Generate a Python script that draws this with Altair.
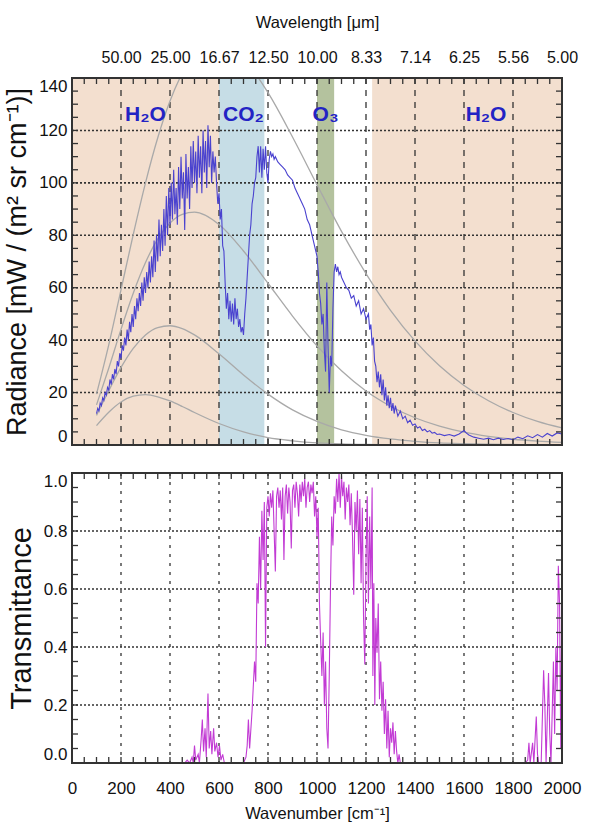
import altair as alt
import pandas as pd

# ---------------- data ----------------
band_id = ["H2O_far", "CO2", "O3", "H2O_mid"]
band_start = [0, 600, 1000, 1225]
band_end = [600, 785, 1070, 2000]
band_colors = ["#f3dfcf", "#c6dde6", "#b4c29e", "#f3dfcf"]

label_text = ["H\u2082O", "CO\u2082", "O\u2083", "H\u2082O"]
label_wn = [300, 700, 1035, 1690]
label_rad = [126, 126, 126, 126]

planck_wn = [100, 150, 200, 250, 300, 350, 400, 450, 500, 600, 700, 800, 900, 1000,
             1100, 1200, 1300, 1400, 1500, 1600, 1700, 1800, 1900, 2000]
planck_300 = [19.4, 38.2, 59.2, 80.3, 100.0, 117.2, 131.2, 141.8, 148.9, 153.4, 147.4, 134.4,
              117.5, 99.3, 81.5, 65.4, 51.4, 39.7, 30.2, 22.7, 16.9, 12.4, 9.0, 6.5]
planck_250 = [15.3, 29.3, 44.1, 57.9, 69.6, 78.6, 84.7, 88.0, 88.8, 84.1, 74.0, 61.7,
              49.2, 37.8, 28.3, 20.6, 14.8, 10.4, 7.2, 4.9, 3.3, 2.2, 1.5, 1.0]
planck_200 = [11.3, 20.7, 29.6, 36.9, 42.0, 44.8, 45.5, 44.4, 42.0, 34.8, 26.7, 19.4,
              13.4, 9.0, 5.8, 3.7, 2.3, 1.4, 0.8, 0.5, 0.3, 0.2, 0.1, 0.1]
planck_150 = [7.4, 12.5, 16.4, 18.6, 19.2, 18.4, 16.8, 14.7, 12.4, 8.2, 5.0, 2.8,
              1.6, 0.8, 0.4, 0.2, 0.1, 0.05, 0.02, 0.01, 0.0, 0.0, 0.0, 0.0]

rad_wn = [100, 105, 110, 115, 120, 125, 130, 135, 140, 145, 150, 155, 160, 165, 170, 175, 180, 185, 190, 195,
          200, 205, 210, 215, 220, 225, 230, 235, 240, 245, 250, 255, 260, 265, 270, 275, 280, 285, 290, 295,
          300, 305, 310, 315, 320, 325, 330, 335, 340, 345, 350, 355, 360, 365, 370, 375, 380, 385, 390, 395,
          400, 405, 410, 415, 420, 425, 430, 435, 440, 445, 450, 455, 460, 465, 470, 475, 480, 485, 490, 495,
          500, 505, 510, 515, 520, 525, 530, 535, 540, 545, 550, 555, 560, 565, 570, 575, 580, 585, 590, 595,
          600, 605, 610, 615, 620, 625, 630, 635, 640, 645, 650, 655, 660, 665, 670, 675, 680, 685, 690, 695,
          700, 705, 710, 715, 720, 725, 730, 735, 740, 745, 750, 755, 760, 765, 770, 775, 780, 785, 790, 795,
          800, 805, 810, 815, 820, 825, 830, 840, 850, 860, 870, 880, 890, 900, 910, 920, 930, 940, 950, 960,
          970, 980, 990, 1000, 1005, 1010, 1015, 1020, 1025, 1030, 1035, 1040, 1045, 1050, 1055, 1060, 1065, 1070,
          1075, 1080, 1085, 1090, 1095, 1100, 1110, 1120, 1130, 1140, 1150, 1160, 1170, 1180, 1190, 1200, 1210,
          1215, 1220, 1225, 1230, 1235, 1240, 1245, 1250, 1255, 1260, 1265, 1270, 1275, 1280, 1285, 1290, 1295,
          1300, 1305, 1310, 1315, 1320, 1330, 1340, 1350, 1360, 1370, 1380, 1390, 1400, 1410, 1420, 1430, 1440,
          1450, 1460, 1470, 1480, 1490, 1500, 1520, 1540, 1560, 1580, 1600, 1610, 1620, 1640, 1660, 1680, 1700,
          1720, 1740, 1760, 1780, 1800, 1820, 1840, 1860, 1880, 1900, 1920, 1940, 1960, 1980, 2000]
rad_val = [12, 14, 13, 16, 15, 18, 17, 20, 19, 22, 21, 25, 23, 27, 25, 29, 27, 32, 30, 35,
           33, 38, 36, 41, 38, 44, 40, 47, 43, 50, 45, 53, 48, 56, 51, 58, 53, 62, 55, 64,
           58, 66, 60, 70, 62, 72, 64, 78, 66, 80, 70, 86, 72, 84, 74, 90, 76, 95, 80, 98,
           84, 100, 86, 105, 88, 98, 84, 106, 90, 110, 94, 104, 82, 111, 94, 106, 90, 114, 98, 116,
           100, 112, 96, 118, 102, 114, 96, 120, 104, 116, 98, 122, 106, 118, 100, 112, 104, 110, 100, 92,
           96, 86, 90, 76, 74, 62, 52, 58, 48, 55, 47, 54, 46, 56, 48, 52, 45, 48, 43, 45,
           42, 50, 56, 64, 72, 80, 84, 92, 95, 100, 102, 110, 114, 104, 114, 102, 113, 105, 114, 104,
           100, 109, 112, 110, 111, 109, 110, 108, 107, 106, 105, 103, 102, 101, 98, 96, 94, 92, 90, 86,
           84, 80, 76, 72, 66, 58, 54, 46, 50, 36, 28, 62, 38, 20, 34, 30, 52, 66,
           69, 66, 68, 65, 66, 64, 62, 60, 59, 56, 57, 53, 55, 50, 52, 48, 50,
           44, 46, 38, 41, 32, 30, 24, 28, 22, 27, 19, 25, 17, 22, 15, 19, 14,
           18, 13, 16, 12, 15, 11, 13, 10, 11, 8.5, 9.5, 7.5, 8, 6.5, 7, 5.5, 6,
           5, 5.5, 4.5, 4.8, 4, 4.2, 3.6, 4, 3.4, 4.2, 5.5, 4.5, 3.8, 3, 2.6, 2.2, 2.6,
           2, 2.6, 2.1, 2.5, 2, 3, 2.4, 3.5, 2.8, 4, 3, 4.4, 3.4, 4.6, 4.2]

tr_wn = [100, 460, 470, 480, 490, 495, 500, 505, 515, 520, 527, 532, 537, 543, 548, 555, 560, 566, 571, 578,
         583, 590, 596, 602, 608, 615, 622, 700, 710, 715, 720, 725, 735, 745, 750, 755, 760, 765, 770, 775,
         780, 785, 790, 795, 800, 805, 810, 815, 820, 825, 830, 835, 840, 845, 850, 855, 860, 865, 870, 875,
         880, 885, 890, 895, 900, 905, 910, 915, 920, 925, 930, 935, 940, 945, 950, 955, 960, 965, 970, 975,
         980, 985, 990, 995, 1000, 1005, 1010, 1015, 1020, 1025, 1030, 1035, 1040, 1045, 1050, 1055, 1060, 1065,
         1070, 1075, 1080, 1085, 1090, 1095, 1100, 1105, 1110, 1115, 1120, 1125, 1130, 1135, 1140, 1145, 1150,
         1155, 1160, 1165, 1170, 1175, 1180, 1185, 1190, 1195, 1200, 1205, 1210, 1215, 1220, 1225, 1228, 1232,
         1236, 1240, 1245, 1250, 1255, 1260, 1265, 1270, 1275, 1280, 1285, 1290, 1295, 1300, 1305, 1310, 1315,
         1320, 1325, 1330, 1335, 1340, 1850, 1860, 1865, 1870, 1880, 1885, 1895, 1900, 1905, 1915, 1925, 1930,
         1935, 1945, 1950, 1955, 1965, 1970, 1975, 1980, 1985, 1990, 1995, 2000]
tr_val = [0, 0, 0.01, 0, 0.02, 0.0, 0.06, 0.01, 0.03, 0.0, 0.08, 0.15, 0.04, 0.12, 0.02, 0.24, 0.05, 0.11, 0.03, 0.12,
          0.04, 0.07, 0.02, 0.06, 0.01, 0.03, 0, 0, 0.02, 0.06, 0.15, 0.05, 0.18, 0.35, 0.28, 0.62, 0.55, 0.78, 0.6, 0.87,
          0.7, 0.9, 0.4, 0.88, 0.92, 0.85, 0.93, 0.88, 0.94, 0.8, 0.66, 0.92, 0.95, 0.88, 0.94, 0.84, 0.95, 0.7, 0.92, 0.96,
          0.86, 0.95, 0.9, 0.74, 0.94, 0.96, 0.88, 0.97, 0.93, 0.85, 0.96, 0.9, 0.97, 0.92, 0.98, 0.88, 0.95, 0.97, 0.9, 0.96,
          0.93, 0.97, 0.85, 0.92, 0.78, 0.88, 0.55, 0.42, 0.3, 0.45, 0.2, 0.35, 0.12, 0.05, 0.3, 0.6, 0.85, 0.75,
          0.92, 0.86, 0.98, 0.9, 1.0, 0.88, 0.99, 0.92, 0.97, 0.84, 0.95, 0.9, 0.96, 0.82, 0.93, 0.78, 0.58,
          0.9, 0.8, 0.94, 0.72, 0.91, 0.62, 0.88, 0.5, 0.34, 0.7, 0.92, 0.55, 0.85, 0.6, 0.95, 0.3, 0.62,
          0.2, 0.5, 0.38, 0.55, 0.22, 0.35, 0.18, 0.28, 0.1, 0.22, 0.05, 0.18, 0.02, 0.12, 0.07, 0.14, 0.03,
          0.11, 0.04, 0.0, 0.03, 0.0, 0, 0.01, 0.07, 0.0, 0.07, 0.0, 0.16, 0.03, 0.0, 0.0, 0.32, 0.2,
          0.0, 0.31, 0.1, 0.0, 0.35, 0.1, 0.4, 0.25, 0.68, 0.55, 0.05, 0.62]

# tick / grid values
x_major = [0, 200, 400, 600, 800, 1000, 1200, 1400, 1600, 1800, 2000]
x_top_major = [200, 400, 600, 800, 1000, 1200, 1400, 1600, 1800, 2000]
x_grid = [200, 400, 600, 800, 1000, 1200, 1400, 1600, 1800]
x_minor = list(range(0, 2001, 50))
y1_major = [0, 20, 40, 60, 80, 100, 120, 140]
y1_grid = [20, 40, 60, 80, 100, 120]
y1_minor = list(range(0, 141, 5))
y2_major = [0.0, 0.2, 0.4, 0.6, 0.8, 1.0]
y2_grid = [0.2, 0.4, 0.6, 0.8]
y2_minor = [i / 20 for i in range(0, 21)]

# ---------------- layout / style ----------------
W, H1, H2 = 490, 367, 290
FONT = "Liberation Sans, Arial, sans-serif"
INK = "#333333"
TXT = "#111111"
TICK = 6

band_df = pd.DataFrame({"id": band_id, "start": band_start, "end": band_end})
label_df = pd.DataFrame({"label": label_text, "wn": label_wn, "rad": label_rad})
planck_df = pd.concat([
    pd.DataFrame({"wn": planck_wn, "rad": vals, "T": name})
    for name, vals in [("150 K", planck_150), ("200 K", planck_200), ("250 K", planck_250), ("300 K", planck_300)]
])
rad_df = pd.DataFrame({"wn": rad_wn, "rad": rad_val})
tr_df = pd.DataFrame({"wn": tr_wn, "tr": tr_val})

x_scale = alt.Scale(domain=[0, 2000], nice=False, zero=False)
y1_scale = alt.Scale(domain=[0, 140], nice=False)
y2_scale = alt.Scale(domain=[0, 1], nice=False)

common_axis = dict(labelFont=FONT, labelColor=TXT, titleFont=FONT, labelOverlap=False,
                   titleFontWeight="normal", titleColor=TXT, ticks=False, domain=False, grid=False)

top_x_axis = alt.Axis(orient="top", values=x_top_major, labelFlush=False,
                      labelExpr="format(10000 / datum.value, '.2f')", labelFontSize=16,
                      title="Wavelength [\u03bcm]", titleFontSize=16.5, titlePadding=19, labelPadding=13,
                      **common_axis)
y1_axis = alt.Axis(orient="left", values=y1_major, labelFlush=True, labelFontSize=17,
                   title="Radiance [mW / (m\u00b2 sr cm\u207b\u00b9)]", titleFontSize=27, titlePadding=7,
                   labelPadding=5, **common_axis)
bot_x_axis = alt.Axis(orient="bottom", values=x_major, format="d", labelFlush=False, labelFontSize=17,
                      title="Wavenumber [cm\u207b\u00b9]", titleFontSize=16.5, titlePadding=9, labelPadding=17,
                      **common_axis)
y2_axis = alt.Axis(orient="left", values=y2_major, format=".1f", labelFlush=True, labelFontSize=17,
                   title="Transmittance", titleFontSize=29, titlePadding=7,
                   labelPadding=5, **common_axis)


def X(field, ax):
    return alt.X(field, scale=x_scale, axis=ax)


def grid_layers(x_ax, y_scale, y_ax, y_grid, x_dash):
    xg = alt.Chart(pd.DataFrame({"v": x_grid})).mark_rule(
        color=INK, strokeWidth=1.3, strokeDash=x_dash).encode(x=X("v:Q", x_ax))
    yg = alt.Chart(pd.DataFrame({"v": y_grid})).mark_rule(
        color=INK, strokeWidth=1.6, strokeDash=[2, 2]).encode(
        y=alt.Y("v:Q", scale=y_scale, axis=y_ax))
    return [xg, yg]


def tick_layers(x_ax, y_scale, y_ax, y_minor, height):
    rule = dict(color=INK, strokeWidth=1.3)
    xdf = pd.DataFrame({"v": x_minor})
    ydf = pd.DataFrame({"v": y_minor})
    ys = alt.Y("v:Q", scale=y_scale, axis=y_ax)
    return [
        alt.Chart(xdf).mark_rule(**rule).encode(x=X("v:Q", x_ax), y=alt.value(0), y2=alt.value(TICK)),
        alt.Chart(xdf).mark_rule(**rule).encode(x=X("v:Q", x_ax), y=alt.value(height),
                                                y2=alt.value(height - TICK)),
        alt.Chart(ydf).mark_rule(**rule).encode(y=ys, x=alt.value(0), x2=alt.value(TICK)),
        alt.Chart(ydf).mark_rule(**rule).encode(y=ys, x=alt.value(W), x2=alt.value(W - TICK)),
    ]


def frame(height):
    return alt.Chart(band_df).mark_rect(filled=False, stroke=INK, strokeWidth=1.8).encode(
        x=alt.value(0), x2=alt.value(W), y=alt.value(0), y2=alt.value(height)
    )


bands = alt.Chart(band_df).mark_rect().encode(
    x=X("start:Q", top_x_axis),
    x2="end:Q",
    color=alt.Color("id:N", scale=alt.Scale(domain=band_id, range=band_colors), legend=None),
)

planck = alt.Chart(planck_df).mark_line(color="#a9a9a9", strokeWidth=1.3, clip=True,
                                        interpolate="monotone").encode(
    x=X("wn:Q", top_x_axis),
    y=alt.Y("rad:Q", scale=y1_scale, axis=y1_axis),
    detail="T:N",
)

spectrum = alt.Chart(rad_df).mark_line(color="#4a42cf", strokeWidth=1.1).encode(
    x=X("wn:Q", top_x_axis),
    y=alt.Y("rad:Q", scale=y1_scale, axis=y1_axis),
)

labels = alt.Chart(label_df).mark_text(
    font=FONT, fontSize=21, fontWeight="bold", color="#2323c4"
).encode(
    x=X("wn:Q", top_x_axis),
    y=alt.Y("rad:Q", scale=y1_scale, axis=y1_axis),
    text="label:N",
)

top = alt.layer(
    bands, *grid_layers(top_x_axis, y1_scale, y1_axis, y1_grid, [6, 6]), planck, spectrum, labels,
    *tick_layers(top_x_axis, y1_scale, y1_axis, y1_minor, H1), frame(H1)
).properties(width=W, height=H1)

trans = alt.Chart(tr_df).mark_line(color="#c23bd4", strokeWidth=1.1).encode(
    x=X("wn:Q", bot_x_axis),
    y=alt.Y("tr:Q", scale=y2_scale, axis=y2_axis),
)

bottom = alt.layer(
    *grid_layers(bot_x_axis, y2_scale, y2_axis, y2_grid, [3, 6]), trans,
    *tick_layers(bot_x_axis, y2_scale, y2_axis, y2_minor, H2), frame(H2)
).properties(width=W, height=H2)

chart = alt.vconcat(top, bottom, spacing=24).properties(
    padding={"left": 3, "top": 14, "right": 10, "bottom": 2}, background="white"
).configure_view(strokeWidth=0)

chart.save("out.html", embed_options={"renderer": "svg", "actions": False})
